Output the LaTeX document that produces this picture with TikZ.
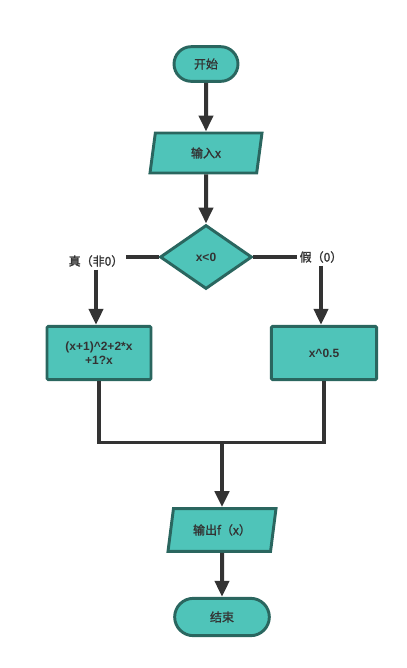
\documentclass[tikz,border=0pt]{standalone}
\usepackage{fontspec}
\setmainfont{Liberation Sans}
\newfontfamily\cjk{Noto Sans CJK SC}[FakeBold=1.5]
\usetikzlibrary{positioning, shapes.geometric, shapes.misc, arrows.meta, calc}
\definecolor{boxfill}{HTML}{4FC4B9}
\definecolor{boxline}{HTML}{2A665F}
\definecolor{linecol}{HTML}{333333}
\tikzset{
  % rounded start / end
  terminal/.style={rounded rectangle, draw=boxline, fill=boxfill,
                   line width=2.2pt, minimum height=#1, inner sep=2pt,
                   font=\cjk\small, text=linecol},
  % slanted box = input / output
  iobox/.style={trapezium, trapezium left angle=72, trapezium right angle=108,
                trapezium stretches body, draw=boxline, fill=boxfill,
                line width=2.2pt, minimum height=#1, inner sep=2pt,
                font=\cjk\small, text=linecol},
  % decision
  decide/.style={diamond, draw=boxline, fill=boxfill, line width=2.2pt,
                 minimum width=69pt, minimum height=48pt, inner sep=0pt,
                 font=\bfseries\small, text=linecol},
  % process
  proc/.style={rectangle, rounded corners=1pt, draw=boxline, fill=boxfill,
               line width=2.2pt, minimum height=40pt, align=center,
               font=\bfseries\small, text=linecol},
  flow/.style={linecol, line width=3pt,
               -{Triangle[length=12pt,width=10.5pt]}},
  wire/.style={linecol, line width=2.4pt},
  cond/.style={font=\cjk\small, text=linecol, inner sep=2pt},
}
\begin{document}
\begin{tikzpicture}[x=0.75pt,y=-0.75pt]
  \useasboundingbox (0,0) rectangle (407,668);
  % nodes
  \node[terminal=26pt, minimum width=52pt] (start) at (206,64) {开始};
  \node[iobox=30pt, minimum width=84pt] (in) at (206,153) {输入x};
  \node[decide] (test) at (206,257) {x<0};
  \node[cond] (yes) at (96,261) {真（非0）};
  \node[cond] (no) at (321,257) {假（0）};
  \node[proc, minimum width=78pt] (left) at (99,353) {(x+1)\^{}2+2*x\\+1?x};
  \node[proc, minimum width=79pt] (right) at (324,353) {x\^{}0.5};
  \node[iobox=32pt, minimum width=81pt] (out) at (222,530) {输出f（x）};
  \node[terminal=28pt, minimum width=75pt] (stop) at (222,617) {结束};
  \coordinate (merge) at ($(out.north)+(0,-65)$);
  % connectors
  \draw[flow] (start) -- (in);
  \draw[flow] (in) -- (test);
  \draw[wire, line width=3pt] (test.west) -- (test.west -| yes.east);
  \draw[wire, line width=3pt] (test.east) -- (no.west);
  \draw[flow] (yes.south) -- (yes.south |- left.north);
  \draw[flow] (no.south) -- (no.south |- right.north);
  \draw[wire] (left.south) |- (merge) -| (right.south);
  \draw[flow] (merge) -- (out.north);
  \draw[flow] (out) -- (stop);
\end{tikzpicture}
\end{document}
